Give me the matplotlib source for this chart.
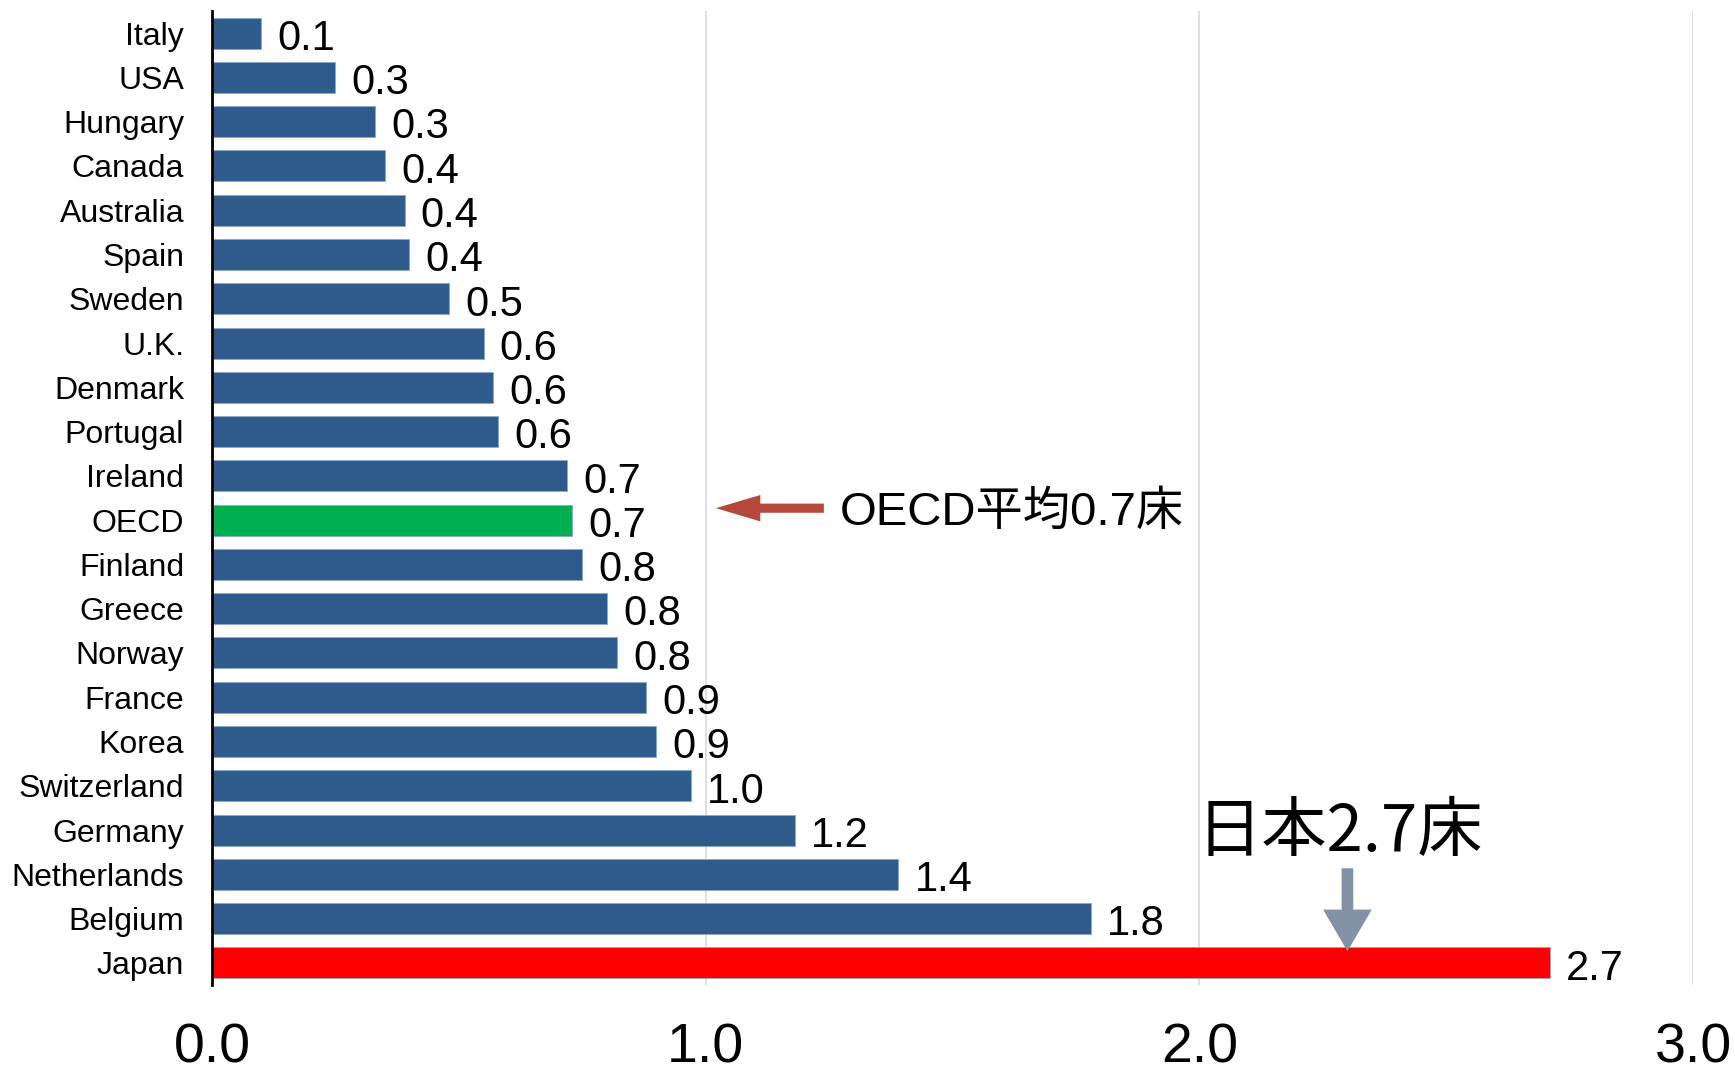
import matplotlib.pyplot as plt

plt.rcParams['font.family'] = ['Liberation Sans', 'Noto Sans CJK JP', 'DejaVu Sans']

# Beds per 1,000 population
countries = ["Italy", "USA", "Hungary", "Canada", "Australia", "Spain", "Sweden",
             "U.K.", "Denmark", "Portugal", "Ireland", "OECD", "Finland", "Greece",
             "Norway", "France", "Korea", "Switzerland", "Germany", "Netherlands",
             "Belgium", "Japan"]
values = [0.10, 0.25, 0.33, 0.35, 0.39, 0.40, 0.48, 0.55, 0.57, 0.58, 0.72, 0.73,
          0.75, 0.80, 0.82, 0.88, 0.90, 0.97, 1.18, 1.39, 1.78, 2.71]
labels = ["0.1", "0.3", "0.3", "0.4", "0.4", "0.4", "0.5", "0.6", "0.6", "0.6", "0.7",
          "0.7", "0.8", "0.8", "0.8", "0.9", "0.9", "1.0", "1.2", "1.4", "1.8", "2.7"]
xticks = [0.0, 1.0, 2.0, 3.0]

colors = []
for c in countries:
    if c == "Japan":
        colors.append('#ff0000')
    elif c == "OECD":
        colors.append('#00b050')
    else:
        colors.append('#2e5a8c')

fig = plt.figure(figsize=(17.35, 10.77), dpi=100, facecolor='white')
ax = fig.add_axes([0.1222, 0.0854, 0.8536, 0.9044])

ypos = list(range(len(countries)))
ax.barh(ypos, values, height=0.7, color=colors, edgecolor='#8fa8c8', linewidth=0.6,
        zorder=3)

for y, v, lab in zip(ypos, values, labels):
    ax.text(v + 0.033, y + 0.13, lab, fontsize=30, va='center', ha='left', zorder=4)

ax.set_xlim(0, 3.0)
ax.set_ylim(len(countries) - 0.5, -0.5)
ax.set_xticks(xticks)
ax.set_xticklabels([f"{t:.1f}" for t in xticks], fontsize=40)
ax.set_yticks(ypos)
ax.set_yticklabels(countries, fontsize=23)
ax.tick_params(axis='x', length=0, pad=27)
ax.tick_params(axis='y', length=0, pad=20)

ax.grid(axis='x', color='#d9d9d9', linewidth=1.2, zorder=0)
for s in ['top', 'right', 'bottom']:
    ax.spines[s].set_visible(False)
ax.spines['left'].set_color('black')
ax.spines['left'].set_linewidth(2)
ax.spines['left'].set_zorder(5)

# OECD average callout
oecd_y = countries.index("OECD")
ax.annotate('', xy=(1.015, oecd_y - 0.27), xytext=(1.245, oecd_y - 0.27),
            arrowprops=dict(arrowstyle='simple,head_length=1.6,head_width=0.95,tail_width=0.33',
                            mutation_scale=20, color='#b5483a', lw=0), zorder=6)
ax.text(1.272, oecd_y - 0.16, "OECD平均0.7床", fontsize=34, va='center', ha='left',
        family=['Liberation Sans', 'Noto Sans CJK JP'], zorder=6)

# Japan callout
japan_y = countries.index("Japan")
ax.annotate('', xy=(2.30, japan_y - 0.2), xytext=(2.30, japan_y - 2.2),
            arrowprops=dict(arrowstyle='simple,head_length=1.5,head_width=1.75,tail_width=0.42',
                            mutation_scale=20, color='#8391a6', lw=0), zorder=6)
ax.text(1.995, japan_y - 2.95, "日本2.7床", fontsize=47, va='center', ha='left',
        family=['Noto Sans CJK JP'], zorder=6)

plt.savefig('out.png', dpi=100, facecolor='white')
plt.close()
